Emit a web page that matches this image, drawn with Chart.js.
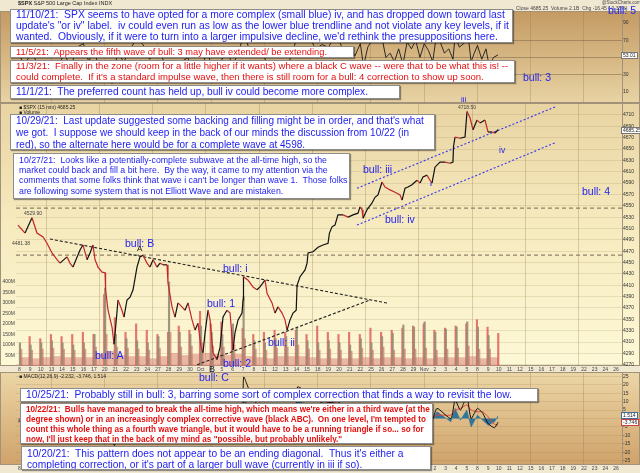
<!DOCTYPE html>
<html>
<head>
<meta charset="utf-8">
<script src="https://cdn.jsdelivr.net/npm/chart.js@4.4.1/dist/chart.umd.min.js"></script>
<style>
  html, body { margin: 0; padding: 0; }
  body { width: 640px; height: 473px; position: relative; overflow: hidden; background: #f1e8d2; font-family: "Liberation Sans", Arial, sans-serif; }
  canvas { position: absolute; left: 0; }
  #rsiCanvas { top: 0; }
  #priceCanvas { top: 103px; }
  #macdCanvas { top: 372px; }
  .note { position: absolute; background: #fff; border: 1px solid #8c8c8c; box-shadow: 1px 1px 1px rgba(0,0,0,.4); box-sizing: border-box; overflow: hidden; padding-left: 5px; }
  .note span { display: block; white-space: pre; width: max-content; }
  .blue { color: #1c1cf0; }
  .red { color: #e41010; }
  .wave { position: absolute; color: #2323f2; font-size: 10.5px; line-height: 1; white-space: pre; }
  .tiny { position: absolute; font-size: 5px; line-height: 1; color: #444; white-space: pre; }
  .tag { position: absolute; font-size: 5px; line-height: 5px; background: #fff; border: 1px solid #777; padding: 0 1px; color: #222; white-space: pre; }
</style>
</head>
<body>
<canvas id="rsiCanvas" width="640" height="103"></canvas>
<canvas id="priceCanvas" width="640" height="270"></canvas>
<canvas id="macdCanvas" width="640" height="101"></canvas>

<div class="tiny" style="left:18px;top:1px;font-size:5.5px;color:#222"><b>$SPX</b> S&amp;P 500 Large Cap Index INDX</div>
<div class="tiny" style="left:602px;top:1px;font-size:4.5px">@StockCharts.com</div>
<div class="tiny" style="left:516px;top:6px">Close 4685.25  Volume 2.1B  Chg -16.45 (-0.35%)</div>
<div class="tiny" style="left:19px;top:105px;color:#222">&#9632; $SPX (15 min) 4685.25</div>
<div class="tiny" style="left:19px;top:110px;color:#222">&#9632; Volume</div>
<div class="tiny" style="left:19px;top:374px;color:#222">&#9632; MACD(12,26,9) -2.232, -3.746, 1.514</div>
<div class="tiny" style="left:24px;top:211px">4529.90</div>
<div class="tiny" style="left:12px;top:241px">4481.38</div>
<div class="tiny" style="left:458px;top:105px">4718.50</div>
<div class="tag" style="left:621px;top:127px">4685.25</div>
<div class="tag" style="left:621px;top:52px">53.01</div>
<div class="tag" style="left:621px;top:412px;border-color:#3a6fa0">1.514</div>
<div class="tag" style="left:621px;top:419px;border-color:#d04040">-3.746</div>

<div class="wave" style="left:608px;top:5px">bull: 5</div>
<div class="wave" style="left:523px;top:72px">bull: 3</div>
<div class="wave" style="left:582px;top:186px">bull: 4</div>
<div class="wave" style="left:461px;top:96px;font-size:8px">iii</div>
<div class="wave" style="left:499px;top:146px;font-size:8.5px">iv</div>
<div class="wave" style="left:430px;top:182px;font-size:5px">ii</div>
<div class="wave" style="left:363px;top:164px">bull: iii</div>
<div class="wave" style="left:385px;top:214px">bull: iv</div>
<div class="wave" style="left:125px;top:238px">bull: B</div>
<div class="wave" style="left:137px;top:245px;font-size:8px;color:#111">A</div>
<div class="wave" style="left:223px;top:263px">bull: i</div>
<div class="wave" style="left:207px;top:298px">bull: 1</div>
<div class="wave" style="left:268px;top:337px">bull: ii</div>
<div class="wave" style="left:95px;top:350px">bull: A</div>
<div class="wave" style="left:223px;top:358px">bull: 2</div>
<div class="wave" style="left:209px;top:365px;font-size:9px;color:#111">B</div>
<div class="wave" style="left:199px;top:372px">bull: C</div>

<div class="note blue" data-tw="493" style="left:10px;top:9px;width:503px;height:34px;line-height:10.8px">
<span>11/10/21:  SPX seems to have opted for a more complex (small blue) iv, and has dropped down toward last</span>
<span>update's "or iv" label.  iv could even run as low as the lower blue trendline and not violate any key levels, if it</span>
<span>wanted.  Obviously, if it were to turn into a larger impulsive decline, we'd rethink the presuppositions here.</span>
</div>
<div class="note red" data-tw="311" style="left:10px;top:46px;width:344px;height:11.5px;line-height:10.5px">
<span>11/5/21:  Appears the fifth wave of bull: 3 may have extended/ be extending.</span>
</div>
<div class="note red" data-tw="493" style="left:10px;top:60px;width:505px;height:23px;line-height:10.8px">
<span>11/3/21:  Finally in the zone (room for a little higher if it wants) where a black C wave -- were that to be what this is! --</span>
<span>could complete.  If it's a standard impulse wave, then there is still room for a bull: 4 correction to show up soon.</span>
</div>
<div class="note blue" data-tw="352" style="left:10px;top:85px;width:390px;height:13.5px;line-height:12px">
<span>11/1/21:  The preferred count has held up, bull iv could become more complex.</span>
</div>
<div class="note blue" data-tw="408" style="left:10px;top:114px;width:425px;height:36px;line-height:11.8px">
<span>10/29/21:  Last update suggested some backing and filling might be in order, and that's what</span>
<span>we got.  I suppose we should keep in the back of our minds the discussion from 10/22 (in</span>
<span>red), so the alternate here would be for a complete wave at 4598.</span>
</div>
<div class="note blue" data-tw="329" style="left:13px;top:152.5px;width:337px;height:46px;line-height:10.4px;padding-top:1px">
<span>10/27/21:  Looks like a potentially-complete subwave at the all-time high, so the</span>
<span>market could back and fill a bit here.  By the way, it came to my attention via the</span>
<span>comments that some folks think that wave i can't be longer than wave 1.  Those folks</span>
<span>are following some system that is not Elliott Wave and are mistaken.</span>
</div>
<div class="note blue" data-tw="486" style="left:20px;top:388px;width:518px;height:14px;line-height:12px">
<span>10/25/21:  Probably still in bull: 3, barring some sort of complex correction that finds a way to revisit the low.</span>
</div>
<div class="note red" data-tw="405" style="left:20px;top:403px;width:413px;height:41px;line-height:10px;padding-top:0.5px;font-weight:bold">
<span>10/22/21:  Bulls have managed to break the all-time high, which means we're either in a third wave (at the</span>
<span>degree shown) or in an increasingly complex corrective wave (black ABC).  On one level, I'm tempted to</span>
<span>count this whole thing as a fourth wave triangle, but it would have to be a running triangle if so... so for</span>
<span>now, I'll just keep that in the back of my mind as "possible, but probably unlikely."</span>
</div>
<div class="note blue" data-tw="377" style="left:21px;top:445.5px;width:410px;height:24px;line-height:11px;padding-top:1px">
<span>10/20/21:  This pattern does not appear to be an ending diagonal.  Thus it's either a</span>
<span>completing correction, or it's part of a larger bull wave (currently in iii if so).</span>
</div>

<script>
// ===== DATA (trading-day index: 0 = Sep 8) =====
const dayLabels = ['8','9','10','13','14','15','16','17','20','21','22','23','24','27','28','29','30',
  'Oct','4','5','6','7','8','11','12','13','14','15','18','19','20','21','22','25','26','27','28','29',
  'Nov','2','3','4','5','8','9','10','11','12','15','16','17','18','19','22','23','24','26'];
const mondays = [3, 8, 13, 18, 23, 28, 33, 38, 43, 48, 53];

const priceDay = [-0.14,0.52,1.17,1.64,2.21,2.58,3.05,3.52,3.80,4.46,
  4.74,5.02,5.68,5.96,6.34,6.62,6.90,7.09,7.37,7.75,
  8.03,8.08,8.31,8.69,8.87,9.06,9.25,9.62,9.81,10.09,
  10.38,10.66,11.03,11.31,11.60,11.97,12.25,12.54,12.91,13.19,
  13.47,13.85,13.94,14.32,14.60,14.88,15.26,15.54,15.82,16.20,
  16.48,16.76,17.04,17.23,17.42,17.70,17.89,18.17,18.54,18.83,
  19.11,19.48,19.77,20.05,20.23,20.52,20.89,20.99,21.03,21.46,
  21.92,22.30,22.58,23.05,23.24,23.71,23.99,24.27,24.65,24.93,
  25.12,25.40,25.68,25.98,26.06,26.34,26.81,27.00,27.09,27.56,
  28.03,28.50,28.97,29.10,29.34,29.62,29.90,30.38,30.85,31.31,
  31.78,31.97,32.16,32.25,32.63,33.10,33.38,33.66,34.04,34.32,
  34.79,35.26,35.73,35.92,36.20,36.48,36.85,37.32,37.61,37.89,
  38.26,38.54,38.73,39.01,39.48,39.95,40.42,40.70,40.75,40.89,
  41.36,41.83,42.02,42.30,42.58,42.96,43.24,43.71,43.99,44.37,
  44.65,44.93];
const priceVal = [4516,4502,4529,4502,4495,4484,4467,4455,4449,4460,
  4449,4442,4472,4481,4455,4467,4481,4455,4442,4433,
  4432,4402,4366,4336,4306,4343,4384,4366,4354,4384,
  4389,4402,4442,4460,4463,4449,4442,4455,4442,4449,
  4446,4446,4414,4372,4354,4379,4372,4366,4379,4349,
  4331,4343,4301,4291,4326,4366,4349,4291,4279,4301,
  4354,4366,4361,4296,4326,4349,4361,4384,4425,4419,
  4407,4402,4407,4419,4396,4379,4361,4372,4361,4349,
  4331,4349,4361,4366,4410,4425,4437,4449,4467,4469,
  4477,4481,4484,4502,4513,4516,4534,4534,4530,4534,
  4537,4548,4543,4528,4543,4555,4565,4569,4592,4583,
  4578,4574,4569,4560,4581,4583,4587,4595,4590,4601,
  4604,4595,4590,4618,4627,4627,4625,4627,4654,4671,
  4669,4671,4716,4705,4684,4701,4696,4701,4680,4680,
  4678,4684];

// volume per session (millions): opening spike, early bars, mid-session level, closing spike
const volOpen  = [110,100,110,120,110,100,110,150,370,150,130,120,110,140,400,160,150,190,160,150,200,330,120,
  110,130,140,180,120,110,120,110,100,130,110,140,155,195,185,210,160,175,185,210,185,145];
const volEarly = [80,75,80,85,80,75,80,90,150,90,85,80,75,85,160,90,95,110,95,90,100,130,80,
  75,85,90,100,80,75,80,75,70,85,75,90,75,80,80,85,75,80,85,95,80,80];
const volMid   = [40,35,40,45,40,40,40,55,70,50,45,45,35,45,60,50,55,60,55,50,55,45,40,
  35,45,45,45,40,35,35,35,35,40,35,40,40,35,40,35,40,40,40,45,35,40];
const volClose = [140,130,150,140,150,160,150,340,230,160,200,170,150,160,190,170,260,200,210,170,180,150,160,
  170,160,170,150,190,160,150,160,150,180,160,170,180,190,200,170,180,190,200,220,185,155];

// trend lines drawn on the price panel
const triUpperDay = [2.86, 34.51],  triUpperVal = [4491.5, 4378.7];
const triLowerDay = [16.67, 32.91], triLowerVal = [4270, 4384];
const chanUpperDay = [31.69, 50.28], chanUpperVal = [4581, 4724];
const chanLowerDay = [31.69, 50.28], chanLowerVal = [4516, 4661];
const levelVals = [4546, 4463];

// top oscillator
const rsiDay = [-0.1,0.5,1.2,1.7,2.3,2.8,3.5,4.2,4.8,5.4,
  6.0,6.5,7.0,7.5,8.1,8.7,9.2,9.8,10.4,11.0,
  11.6,12.2,12.8,13.4,14.0,14.6,15.2,15.8,16.3,17.0,
  17.6,18.2,18.8,19.4,20.0,20.6,21.1,21.6,22.2,22.8,
  23.3,23.9,24.5,25.0,25.6,26.1,26.7,27.2,27.8,28.4,
  29.0,29.5,30.0,30.5,31.0,31.5,32.0,32.3,32.7,33.1,
  33.5,34.0,34.4,34.8,35.2,35.6,36.0,36.4,36.8,37.2,
  37.6,38.0,38.4,38.8,39.1,39.5,39.9,40.3,40.7,40.9,
  41.3,41.7,42.1,42.4,42.7,43.0,43.4,43.8,44.1,44.5,44.93];
const rsiVal = [55,40,60,38,45,30,35,55,38,62,
  66,45,60,35,25,20,55,45,60,72,
  65,48,55,50,30,28,45,50,35,28,
  60,30,40,62,40,58,78,58,50,55,
  42,35,45,35,55,75,70,74,60,65,
  62,72,70,55,60,52,66,40,62,70,
  68,75,50,55,45,60,42,68,60,70,
  50,66,58,45,72,68,55,60,48,75,
  62,66,78,45,55,64,48,60,40,50,53];

// MACD(12,26,9)
const macdDay = [-0.1,1.2,3,5,6.6,8.0,8.9,9.3,10.7,11.5,
  13,13.95,14.6,16,17.2,17.7,18.5,19.1,20,20.9,
  21.05,21.5,22.5,23.7,25.1,25.9,26.1,27.1,28.5,29.9,
  31,32.2,33.5,34.0,35.9,37,38.7,39.2,40.5,40.9,
  41.4,42.0,42.4,43,43.5,44,44.6,44.93];
const macdLine = [-2,2,-4,-3,1,-4,-16,-8,4,9,
  2,-4,-12,-6,-11,-3,-10,2,-4,3,
  24.6,18,6,-4,-7,-1,18.7,15,9,10,
  3,-2,6,9,-4,3,-1,6,0,11,
  5,13,0,6,3,-3,-5.5,-2.23];
const macdSignal = [-1,0,-2,-3,-1,-2,-9,-11,-2,5,
  4,0,-7,-8,-8,-7,-7,-3,-2,0,
  8,14,10,2,-5,-4,4,12,10,9,
  6,1,3,6,0,0,0,2,2,5,
  6,8,5,4,4,1,-3.5,-3.75];
const macdHist = [-1,2,-2,0,2,-2,-7,3,6,4,
  -2,-4,-5,2,-3,4,-3,5,-2,3,
  16,4,-4,-6,-2,3,14,3,-1,1,
  -3,-3,3,3,-4,3,-1,4,-2,6,
  -1,5,-5,2,-1,-4,-2,1.51];

const priceTicks = [4270,4280,4290,4300,4310,4320,4330,4340,4350,4360,4370,4380,4390,4400,4410,4420,4430,4440,4450,
  4460,4470,4480,4490,4500,4510,4520,4530,4540,4550,4560,4570,4580,4590,4600,4610,4620,4630,4640,4650,4660,
  4670,4680,4690,4700,4710,4720];
const volTicks = [50,100,150,200,250,300,350,400];
const rsiTicks = [10,30,50,70,90];
const macdTicks = [-25,-20,-15,-10,-5,0,5,10,15,20,25];

// ===== helpers =====
const X_MIN = -0.33, X_MAX = 56.57;
const pts = (xs, ys) => xs.map((x, i) => ({ x, y: ys[i] }));

// fit the note boxes' text to their measured widths
document.querySelectorAll('.note').forEach(box => {
  box.style.fontSize = '10px';
  let widest = 0;
  box.querySelectorAll('span').forEach(s => { widest = Math.max(widest, s.getBoundingClientRect().width); });
  box.style.fontSize = (10 * box.dataset.tw / widest).toFixed(2) + 'px';
});

function panelBg(stops) {
  return {
    id: 'panelBg',
    beforeDraw(chart) {
      const { ctx, chartArea: a } = chart;
      const g = ctx.createLinearGradient(0, a.top, 0, a.bottom);
      stops.forEach(([o, c]) => g.addColorStop(o, c));
      ctx.save();
      ctx.fillStyle = g;
      ctx.fillRect(0, a.top, chart.width, a.bottom - a.top);
      ctx.strokeStyle = '#a3927a';
      ctx.lineWidth = 1;
      ctx.strokeRect(0.5, a.top + 0.5, chart.width - 1, a.bottom - a.top - 1);
      ctx.beginPath();
      ctx.moveTo(a.right + 0.5, a.top); ctx.lineTo(a.right + 0.5, a.bottom);
      ctx.stroke();
      ctx.restore();
    }
  };
}

function dayAxis(labelHeight) {
  return {
    type: 'linear', min: X_MIN, max: X_MAX,
    afterBuildTicks: s => { s.ticks = dayLabels.map((_, i) => ({ value: i })); },
    afterFit: s => { s.height = labelHeight; s.paddingLeft = 0; s.paddingRight = 0; },
    ticks: {
      display: labelHeight > 0, callback: v => dayLabels[v], autoSkip: false,
      maxRotation: 0, minRotation: 0, font: { size: 5 }, color: '#444', padding: 1
    },
    grid: {
      color: c => (c.tick && mondays.includes(c.tick.value)) ? 'rgba(140,120,80,0.3)' : 'rgba(0,0,0,0)',
      drawTicks: false
    },
    border: { display: false }
  };
}

function sideAxis(pos, width, ticks, extra) {
  return Object.assign({
    position: pos,
    afterBuildTicks: s => { s.ticks = ticks.map(v => ({ value: v })); },
    afterFit: s => { s.width = width; s.paddingTop = 0; s.paddingBottom = 0; },
    ticks: { font: { size: 5 }, color: '#333', padding: 1, callback: v => String(v) },
    border: { display: false }
  }, extra);
}

const baseOptions = {
  responsive: false, animation: false, events: [],
  plugins: { legend: { display: false }, tooltip: { enabled: false } },
  elements: { point: { radius: 0 } }
};

function lineSet(xs, ys, color, width, dash, order) {
  return { type: 'line', data: pts(xs, ys), borderColor: color, borderWidth: width,
           borderDash: dash, fill: false, tension: 0, order: order, yAxisID: 'y' };
}

function volSet(values, offset, color, thickness, order) {
  return { type: 'bar', data: values.map((v, i) => ({ x: i + offset, y: v })), yAxisID: 'yVol',
           backgroundColor: color, barThickness: thickness, grouped: false, order: order };
}

// ===== top oscillator panel =====
new Chart(document.getElementById('rsiCanvas'), {
  type: 'line',
  data: { datasets: [
    { data: pts(rsiDay, rsiVal), borderColor: '#1a1a1a', borderWidth: 0.9, fill: false, tension: 0 }
  ] },
  options: Object.assign({}, baseOptions, {
    layout: { padding: { top: 11, left: 16 } },
    scales: {
      x: dayAxis(0),
      y: sideAxis('right', 18, rsiTicks, {
        min: -2.8, max: 103.9,
        grid: { color: c => [30, 50, 70].includes(c.tick.value) ? 'rgba(110,90,60,0.45)' : 'rgba(0,0,0,0)', drawTicks: false }
      })
    }
  }),
  plugins: [panelBg([[0, '#c49a62'], [1, '#e8d3a4']])]
});

// ===== price + volume panel =====
const spanX = [X_MIN, X_MAX];
new Chart(document.getElementById('priceCanvas'), {
  type: 'line',
  data: { datasets: [
    { type: 'line', data: pts(priceDay, priceVal), borderWidth: 1.2, tension: 0, fill: false, order: 0, yAxisID: 'y',
      borderColor: '#111',
      segment: { borderColor: c => c.p1.parsed.y < c.p0.parsed.y ? '#c3262a' : '#111' } },
    lineSet(triUpperDay, triUpperVal, '#222', 1.1, [3, 2], 1),
    lineSet(triLowerDay, triLowerVal, '#222', 1.1, [3, 2], 1),
    lineSet(chanUpperDay, chanUpperVal, '#3434f4', 1.1, [2, 2], 1),
    lineSet(chanLowerDay, chanLowerVal, '#3434f4', 1.1, [2, 2], 1),
    lineSet(spanX, [levelVals[0], levelVals[0]], '#8d8266', 1.2, [4, 3], 2),
    lineSet(spanX, [levelVals[1], levelVals[1]], '#8d8266', 1.2, [4, 3], 2),
    volSet(volOpen, 0.04, 'rgba(150,140,118,0.9)', 1.5, 3),
    volSet(volClose, 0.95, 'rgba(222,96,92,0.85)', 1.5, 4),
    volSet(volEarly, 0.14, 'rgba(214,110,104,0.7)', 2, 5),
    volSet(volMid, 0.55, 'rgba(214,132,120,0.55)', 8.5, 6)
  ] },
  options: Object.assign({}, baseOptions, {
    scales: {
      x: Object.assign(dayAxis(7), { offset: false }),
      y: sideAxis('right', 18, priceTicks, {
        min: 4267.75, max: 4731.1,
        grid: { color: 'rgba(165,145,95,0.22)', drawTicks: false }
      }),
      yVol: sideAxis('left', 16, volTicks, {
        min: 0, max: 1250,
        ticks: { font: { size: 5 }, color: '#444', padding: 1, callback: v => v + 'M' },
        grid: { display: false, drawTicks: false }
      })
    }
  }),
  plugins: [panelBg([[0, '#e8d3a2'], [0.45, '#f6eabe'], [1, '#fdf8d6']])]
});

// ===== MACD panel =====
new Chart(document.getElementById('macdCanvas'), {
  type: 'line',
  data: { datasets: [
    { data: pts(macdDay, macdLine), borderColor: '#111', borderWidth: 1, fill: false, tension: 0.2, order: 0 },
    { data: pts(macdDay, macdSignal), borderColor: '#e0483c', borderWidth: 1, fill: false, tension: 0.2, order: 1 },
    { data: pts(macdDay, macdHist), borderColor: '#1e6d9c', backgroundColor: 'rgba(30,109,156,0.9)',
      borderWidth: 0.5, fill: 'origin', tension: 0, order: 2 }
  ] },
  options: Object.assign({}, baseOptions, {
    layout: { padding: { left: 16 } },
    scales: {
      x: dayAxis(8),
      y: sideAxis('right', 18, macdTicks, {
        min: -27.6, max: 27.6,
        grid: { color: 'rgba(150,120,80,0.18)', drawTicks: false }
      })
    }
  }),
  plugins: [panelBg([[0, '#ecd6a6'], [1, '#cfa26a']])]
});
</script>
</body>
</html>
